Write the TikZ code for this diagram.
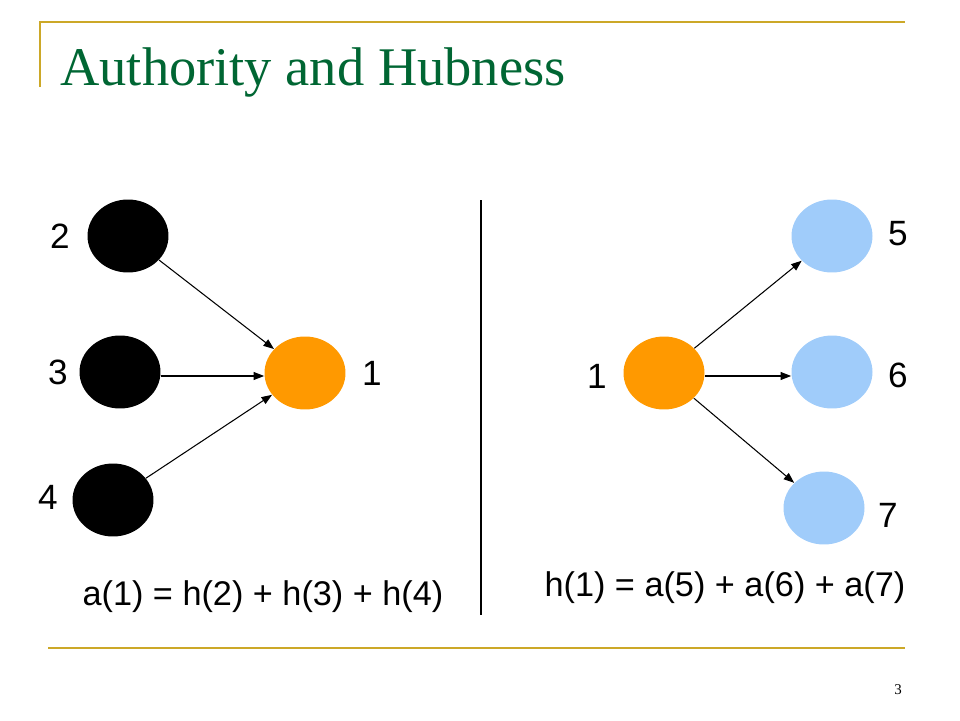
\documentclass[tikz,border=0pt]{standalone}
\usepackage{fontspec}
\setmainfont{Liberation Serif}
\setsansfont{Liberation Sans}
\usetikzlibrary{shapes.geometric,arrows.meta}

\definecolor{gold}{RGB}{204,168,40}
\definecolor{titlegreen}{RGB}{0,102,51}
\definecolor{hubcol}{RGB}{255,153,0}
\definecolor{authcol}{RGB}{160,204,250}

\tikzset{
  vertex/.style={ellipse, minimum width=1.62cm, minimum height=1.46cm, inner sep=0pt},
  label/.style={font=\sffamily\fontsize{20}{24}\selectfont},
  edge/.style={black, line width=0.6pt, -{Triangle[length=6pt,width=4.5pt]}}
}

\begin{document}
\begin{tikzpicture}[x=0.02cm, y=-0.02cm]
            \useasboundingbox (0,0) rectangle (960,720);
            % frame
            \draw[gold, line width=1.5pt] (40,87) -- (40,22) -- (905,22);
            \draw[gold, line width=1.5pt] (48,648) -- (905,648);
            \node[anchor=base west, inner sep=0pt, text=titlegreen, font=\fontsize{31}{36}\selectfont] (title) at (60,85) {Authority and Hubness};
            \node[font=\fontsize{8.5}{10}\selectfont] (page) at (898,690) {3};
            \draw[black, line width=0.6pt] (481,200) -- (481,615);

            % authority side
            \node[vertex, fill=black] (n2) at (128,236) {};
            \node[vertex, fill=black] (n3) at (120,372) {};
            \node[vertex, fill=black] (n4) at (113,500) {};
            \node[vertex, fill=hubcol] (a1) at (305,373) {};
            \node[label] (l2) at (60,236) {2};
            \node[label] (l3) at (58,372) {3};
            \node[label] (l4) at (48,497) {4};
            \node[label] (la1) at (372,373) {1};
            \draw[edge] (n2) -- (a1);
            \draw[edge] (n3.east |- 0,376) -- (a1.west |- 0,376);
            \draw[edge] (n4) -- (a1);
            \node[label, font=\sffamily\fontsize{19.5}{24}\selectfont] (eqa) at (263,597) {a(1) = h(2) + h(3) + h(4)};

            % hub side
            \node[vertex, fill=hubcol] (h1) at (664,373) {};
            \node[vertex, fill=authcol] (n5) at (832,236) {};
            \node[vertex, fill=authcol] (n6) at (832,372) {};
            \node[vertex, fill=authcol] (n7) at (824,508) {};
            \node[label] (lh1) at (597,376) {1};
            \node[label] (l5) at (898,234) {5};
            \node[label] (l6) at (898,375) {6};
            \node[label] (l7) at (888,515) {7};
            \draw[edge] (h1) -- (n5);
            \draw[edge] (h1.east |- 0,376) -- (n6.west |- 0,376);
            \draw[edge] (h1) -- (n7);
            \node[label, font=\sffamily\fontsize{19.5}{24}\selectfont] (eqh) at (725,588) {h(1) = a(5) + a(6) + a(7)};
        \end{tikzpicture}
\end{document}
